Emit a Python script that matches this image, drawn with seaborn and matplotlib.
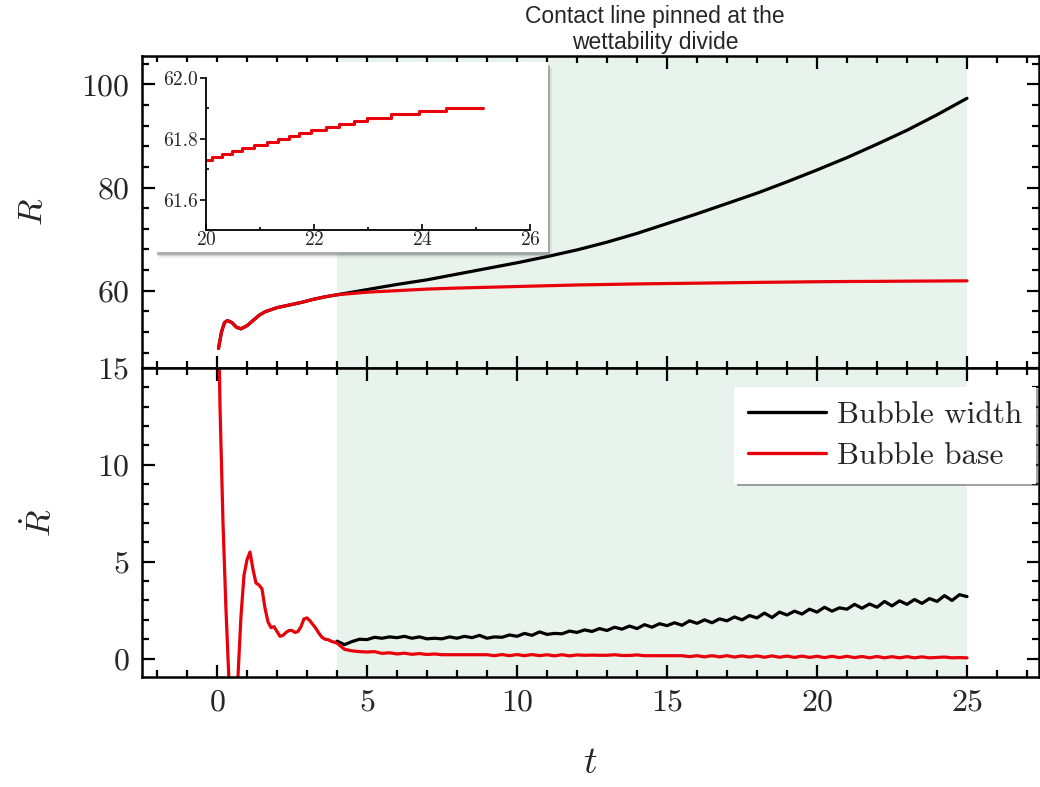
import numpy as np
import pandas as pd
import matplotlib
matplotlib.use("Agg")
import matplotlib.pyplot as plt
from matplotlib.patches import Rectangle
from matplotlib.ticker import MultipleLocator, FormatStrFormatter
import seaborn as sns

# ---------------- data ----------------
# bubble radius R(t): base (contact line) and width
t_early = [0.05, 0.15, 0.25, 0.35, 0.5, 0.65, 0.8, 1.0, 1.2, 1.4, 1.6, 2.0,
           2.4, 2.8, 3.2, 3.6, 4.0]
R_early = [48.8, 52.0, 53.8, 54.2, 53.8, 52.9, 52.6, 53.2, 54.2, 55.2, 55.9,
           56.7, 57.2, 57.7, 58.3, 58.8, 59.2]

t_late = [5, 6, 7, 8, 9, 10, 11, 12, 13, 14, 15, 16, 17, 18, 19, 20, 21, 22,
          23, 24, 25]
R_base_late = [59.7, 60.0, 60.3, 60.5, 60.65, 60.8, 60.95, 61.1, 61.2, 61.3,
               61.38, 61.45, 61.52, 61.6, 61.66, 61.73, 61.77, 61.8, 61.84,
               61.87, 61.9]
R_width_late = [60.2, 61.2, 62.1, 63.2, 64.3, 65.4, 66.6, 67.9, 69.4, 71.1,
                73.0, 74.9, 76.9, 78.9, 81.1, 83.4, 85.8, 88.4, 91.1, 94.1,
                97.3]

# zoom on the base radius, t in [20, 25.1]
t_zoom = [20.0, 20.11, 20.30, 20.48, 20.67, 20.89, 21.13, 21.33, 21.54,
          21.72, 21.94, 22.22, 22.46, 22.74, 22.99, 23.42, 23.95, 24.45, 25.13]
R_zoom = [61.73, 61.74, 61.75, 61.76, 61.77, 61.78, 61.79, 61.80, 61.81,
          61.82, 61.83, 61.84, 61.85, 61.86, 61.87, 61.88, 61.89, 61.90, 61.90]

# growth rate dR/dt
t_rate_early = [0.0, 0.1, 0.2, 0.3, 0.4, 0.5, 0.6, 0.7, 0.8, 0.9, 1.0, 1.1,
                1.2, 1.3, 1.4, 1.5, 1.6, 1.7, 1.8, 1.9, 2.0, 2.1, 2.2, 2.3,
                2.4, 2.5, 2.6, 2.7, 2.8, 2.9, 3.0, 3.1, 3.2, 3.3, 3.4, 3.5,
                3.6, 3.7, 3.8, 3.9]
Rdot_base_early = [22.0, 13.0, 7.0, 2.5, -1.2, -3.5, -3.0, -0.9, 2.2, 4.3,
                   5.1, 5.5, 4.6, 3.9, 3.8, 3.6, 2.6, 1.9, 1.6, 1.65, 1.4,
                   1.15, 1.2, 1.35, 1.45, 1.45, 1.35, 1.4, 1.65, 2.05, 2.1,
                   1.95, 1.75, 1.55, 1.3, 1.1, 1.0, 0.98, 0.9, 0.85]

t_rate = [4.00, 4.25, 4.50, 4.75, 5.00, 5.25, 5.50, 5.75, 6.00, 6.25, 6.50,
          6.75, 7.00, 7.25, 7.50, 7.75, 8.00, 8.25, 8.50, 8.75, 9.00, 9.25,
          9.50, 9.75, 10.00, 10.25, 10.50, 10.75, 11.00, 11.25, 11.50, 11.75,
          12.00, 12.25, 12.50, 12.75, 13.00, 13.25, 13.50, 13.75, 14.00,
          14.25, 14.50, 14.75, 15.00, 15.25, 15.50, 15.75, 16.00, 16.25,
          16.50, 16.75, 17.00, 17.25, 17.50, 17.75, 18.00, 18.25, 18.50,
          18.75, 19.00, 19.25, 19.50, 19.75, 20.00, 20.25, 20.50, 20.75,
          21.00, 21.25, 21.50, 21.75, 22.00, 22.25, 22.50, 22.75, 23.00,
          23.25, 23.50, 23.75, 24.00, 24.25, 24.50, 24.75, 25.00]
Rdot_width = [0.90, 0.72, 0.88, 1.00, 0.98, 1.10, 1.05, 1.12, 1.08, 1.15,
              1.05, 1.12, 1.02, 1.05, 1.02, 1.12, 1.05, 1.15, 1.08, 1.20,
              1.05, 1.12, 1.10, 1.22, 1.15, 1.30, 1.20, 1.38, 1.25, 1.30,
              1.28, 1.42, 1.35, 1.48, 1.40, 1.55, 1.45, 1.62, 1.52, 1.68,
              1.55, 1.75, 1.62, 1.80, 1.70, 1.85, 1.72, 1.95, 1.82, 2.00,
              1.85, 2.05, 1.95, 2.15, 2.00, 2.22, 2.10, 2.35, 2.12, 2.40,
              2.25, 2.45, 2.30, 2.55, 2.40, 2.65, 2.45, 2.62, 2.55, 2.80,
              2.60, 2.82, 2.65, 2.95, 2.72, 2.98, 2.80, 3.05, 2.85, 3.10,
              2.95, 3.25, 3.00, 3.30, 3.20]
Rdot_base = [0.80, 0.48, 0.40, 0.36, 0.34, 0.36, 0.27, 0.30, 0.24, 0.28,
             0.22, 0.26, 0.21, 0.24, 0.20, 0.20, 0.20, 0.20, 0.20, 0.20,
             0.20, 0.15, 0.21, 0.15, 0.21, 0.15, 0.21, 0.15, 0.20, 0.14,
             0.20, 0.14, 0.19, 0.17, 0.18, 0.17, 0.17, 0.20, 0.16, 0.16,
             0.19, 0.15, 0.15, 0.15, 0.15, 0.15, 0.15, 0.10, 0.15, 0.09,
             0.15, 0.09, 0.15, 0.08, 0.14, 0.08, 0.14, 0.07, 0.14, 0.07,
             0.13, 0.06, 0.13, 0.06, 0.12, 0.05, 0.12, 0.05, 0.12, 0.05,
             0.11, 0.04, 0.11, 0.04, 0.10, 0.04, 0.10, 0.04, 0.09, 0.04,
             0.06, 0.08, 0.04, 0.05, 0.04]

pinned_start, pinned_end = 4.0, 25.0
labels = ["Bubble width", "Bubble base"]
colors = ["#000000", "#e8000b"]

# ---------------- style ----------------
sns.set_theme(style="ticks")
plt.rcParams["font.family"] = "serif"
plt.rcParams["font.serif"] = ["cmr10"]
plt.rcParams["mathtext.fontset"] = "cm"
plt.rcParams["axes.formatter.use_mathtext"] = True
plt.rcParams["axes.unicode_minus"] = False

W, H = 1040, 787
fig = plt.figure(figsize=(W / 100, H / 100), dpi=100)


def fx(px):
    return px / W


def fy(py):
    return 1 - py / H


left, right = fx(142), fx(1039)
top, mid, bottom = fy(56), fy(368), fy(677)
ax1 = fig.add_axes([left, mid, right - left, top - mid])
ax2 = fig.add_axes([left, bottom, right - left, mid - bottom], sharex=ax1)

lw = 2.3
shade = "#e8f3ec"

# upper panel: radius
df_w = pd.DataFrame({"t": t_early + t_late, "R": R_early + R_width_late})
df_b = pd.DataFrame({"t": t_early + t_late, "R": R_early + R_base_late})
for ax in (ax1, ax2):
    ax.axvspan(pinned_start, pinned_end, color=shade, lw=0, zorder=0)
sns.lineplot(data=df_w, x="t", y="R", ax=ax1, color=colors[0], lw=lw,
             sort=False, estimator=None)
sns.lineplot(data=df_b, x="t", y="R", ax=ax1, color=colors[1], lw=lw,
             sort=False, estimator=None)

# lower panel: growth rate
df_wd = pd.DataFrame({"t": t_rate, "Rdot": Rdot_width})
df_bd = pd.DataFrame({"t": t_rate_early + t_rate,
                      "Rdot": Rdot_base_early + Rdot_base})
sns.lineplot(data=df_wd, x="t", y="Rdot", ax=ax2, color=colors[0], lw=lw,
             sort=False, estimator=None, label=labels[0])
sns.lineplot(data=df_bd, x="t", y="Rdot", ax=ax2, color=colors[1], lw=lw,
             sort=False, estimator=None, label=labels[1])

ax1.set_xlim(-2.5, 27.4)
ax1.set_ylim(45.0, 105.5)
ax2.set_ylim(-0.95, 15)

ax1.yaxis.set_major_locator(MultipleLocator(20))
ax1.yaxis.set_minor_locator(MultipleLocator(4))
ax2.yaxis.set_major_locator(MultipleLocator(5))
ax2.yaxis.set_minor_locator(MultipleLocator(1))
ax2.xaxis.set_major_locator(MultipleLocator(5))
ax2.xaxis.set_minor_locator(MultipleLocator(1))

for ax in (ax1, ax2):
    for s in ax.spines.values():
        s.set_linewidth(1.8)
        s.set_color("black")
    ax.tick_params(which="both", direction="in", top=True, right=True,
                   color="black", width=1.6)
    ax.tick_params(which="major", length=9, labelsize=23, pad=9)
    ax.tick_params(which="minor", length=5)
    ax.set_facecolor("white")
ax1.tick_params(axis="x", labelbottom=False)
ax1.set_yticks([60, 80, 100])
ax2.set_yticks([0, 5, 10, 15])

ax1.set_xlabel("")
ax1.set_ylabel(r"$R$", fontsize=25)
ax2.set_ylabel(r"$\dot{R}$", fontsize=25)
ax2.set_xlabel(r"$t$", fontsize=27)
ax1.yaxis.set_label_coords(-0.104, 0.5)
ax2.yaxis.set_label_coords(-0.094, 0.5)
ax2.xaxis.set_label_coords(0.5, -0.225)

leg = ax2.legend(loc="upper right", bbox_to_anchor=(0.997, 0.94),
                 fontsize=22.5, frameon=True, fancybox=False, shadow=True,
                 handlelength=2.5, borderpad=0.45, labelspacing=0.42,
                 handletextpad=0.35, borderaxespad=0.0)
leg.get_frame().set_edgecolor("white")
leg.get_frame().set_linewidth(0)
for line in leg.get_lines():
    line.set_linewidth(2.4)

fig.text(fx(655), fy(17), "Contact line pinned at the", ha="center",
         va="center", fontsize=16.5, family="Liberation Sans")
fig.text(fx(655), fy(43), "wettability divide", ha="center",
         va="center", fontsize=16.5, family="Liberation Sans")

# inset: white card with a soft drop shadow
bx0, bx1, by0, by1 = 155, 548, 62, 252
for off, alpha in ((6, 0.10), (4, 0.18), (2.5, 0.28)):
    fig.patches.append(Rectangle((fx(bx0 + off * 0.6), fy(by1 + off)),
                                 fx(bx1 - bx0), fy(by0) - fy(by1),
                                 transform=fig.transFigure,
                                 facecolor="#555555", alpha=alpha, lw=0,
                                 zorder=5))
card = fig.add_axes([fx(bx0), fy(by1), fx(bx1 - bx0), fy(by0) - fy(by1)])
card.set_zorder(6)
card.set_facecolor("white")
card.set_xticks([])
card.set_yticks([])
for s in card.spines.values():
    s.set_visible(False)

ins = fig.add_axes([fx(206), fy(230), fx(530 - 206), fy(78) - fy(230)])
ins.set_zorder(7)
ins.set_facecolor("none")
df_z = pd.DataFrame({"t": t_zoom, "R": R_zoom})
sns.lineplot(data=df_z, x="t", y="R", ax=ins, color=colors[1], lw=2.2,
             drawstyle="steps-post", sort=False, estimator=None)
ins.set_xlim(20, 26)
ins.set_ylim(61.5, 62.0)
ins.xaxis.set_major_locator(MultipleLocator(2))
ins.xaxis.set_minor_locator(MultipleLocator(1))
ins.yaxis.set_major_locator(MultipleLocator(0.2))
ins.yaxis.set_minor_locator(MultipleLocator(0.1))
ins.yaxis.set_major_formatter(FormatStrFormatter("%.1f"))
ins.set_xlabel("")
ins.set_ylabel("")
for side in ("top", "right"):
    ins.spines[side].set_visible(False)
for side in ("left", "bottom"):
    ins.spines[side].set_linewidth(1.3)
    ins.spines[side].set_color("black")
ins.tick_params(which="both", labelsize=14, width=1.2, color="black",
                pad=2)
ins.tick_params(axis="y", which="major", direction="out", length=4)
ins.tick_params(axis="y", which="minor", direction="in", length=2.5)
ins.tick_params(axis="x", which="major", direction="in", length=4)
ins.tick_params(axis="x", which="minor", direction="in", length=2.5)
ins.tick_params(axis="x", pad=1)

fig.savefig("out.png", dpi=100)
